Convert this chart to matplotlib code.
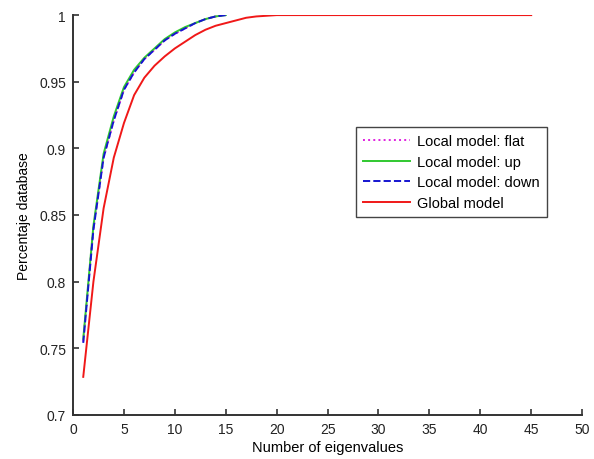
import numpy as np
import matplotlib
matplotlib.use('Agg')
import matplotlib.pyplot as plt

plt.rcParams['font.family'] = ['Liberation Sans', 'DejaVu Sans']

# cumulative fraction of the database explained vs. number of eigenvalues
n_local = np.arange(1, 16)
local_flat = [0.755, 0.840, 0.893, 0.921, 0.944, 0.957, 0.967, 0.974, 0.981, 0.986, 0.990, 0.994, 0.997, 0.999, 1.0]
local_up = [0.757, 0.842, 0.896, 0.924, 0.946, 0.959, 0.968, 0.975, 0.982, 0.987, 0.991, 0.994, 0.997, 0.999, 1.0]
local_down = [0.754, 0.839, 0.893, 0.921, 0.944, 0.957, 0.967, 0.974, 0.981, 0.986, 0.990, 0.994, 0.997, 0.999, 1.0]

n_global = np.arange(1, 46)
global_model = [0.7285, 0.800, 0.855, 0.893, 0.919, 0.940, 0.953, 0.962, 0.969, 0.975,
                0.980, 0.985, 0.989, 0.992, 0.994, 0.996, 0.998, 0.999, 0.9995] + [1.0] * 26

fig = plt.figure(figsize=(5.94, 4.6), dpi=100)
ax = fig.add_axes([0.123, 0.096, 0.857, 0.869])

ax.plot(n_local, local_flat, color='#e020e0', linestyle=':', lw=1.4, label='Local model: flat')
ax.plot(n_local, local_up, color='#30c830', linestyle='-', lw=1.4, label='Local model: up')
ax.plot(n_local, local_down, color='#1515d0', linestyle='--', lw=1.4, label='Local model: down')
ax.plot(n_global, global_model, color='#f01818', linestyle='-', lw=1.4, label='Global model')

ax.set_xlim(0, 50)
ax.set_ylim(0.7, 1.0)
ax.set_xticks(np.arange(0, 51, 5))
ax.set_yticks([0.7, 0.75, 0.8, 0.85, 0.9, 0.95, 1.0])
ax.set_yticklabels(['0.7', '0.75', '0.8', '0.85', '0.9', '0.95', '1'])

for s in ['top', 'right']:
    ax.spines[s].set_visible(False)
for s in ['left', 'bottom']:
    ax.spines[s].set_linewidth(1.4)
    ax.spines[s].set_color('#333333')
ax.tick_params(direction='in', length=4, width=1.2, labelsize=10, pad=5,
               colors='#333333', labelcolor='#222222')

ax.set_xlabel('Number of eigenvalues', fontsize=10.5, labelpad=3)
ax.set_ylabel('Percentaje database', fontsize=10, labelpad=6)

leg = ax.legend(loc='upper left', bbox_to_anchor=(0.556, 0.72), fontsize=10.5,
                fancybox=False, edgecolor='#444444', framealpha=1, handlelength=3.2,
                handletextpad=0.5, borderaxespad=0, labelspacing=0.45, borderpad=0.5)
leg.get_frame().set_linewidth(1.0)

fig.savefig('out.png', dpi=100)
